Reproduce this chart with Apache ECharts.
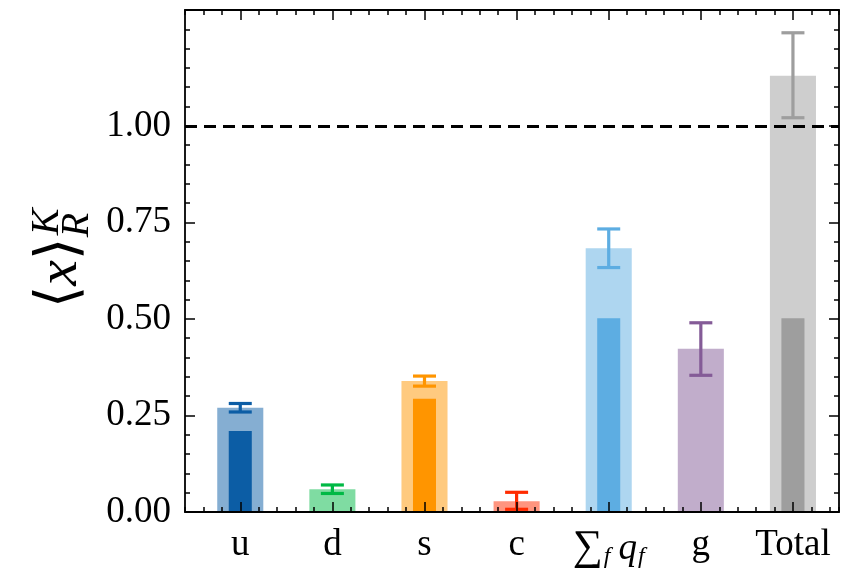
<!DOCTYPE html>
<html><head><meta charset="utf-8">
<script src="https://cdn.jsdelivr.net/npm/echarts@6/dist/echarts.min.js"></script>
<style>html,body{margin:0;padding:0;background:#fff}#c{width:859px;height:570px}</style>
</head><body><div id="c"></div>
<script>
// ---- data ----
const categories = ['u', 'd', 's', 'c', '{sum|∑}{sub|f}{it|q}{sub2|f}', 'g', 'Total'];
const outerValues = [0.270, 0.059, 0.339, 0.028, 0.683, 0.423, 1.130];
const innerValues = [0.210, null, 0.293, null, 0.502, null, 0.502];
const errCenters = [0.270, 0.059, 0.339, 0.029, 0.683, 0.422, 1.131];
const errHalf = [0.011, 0.011, 0.013, 0.022, 0.050, 0.068, 0.110];
const yTickValues = [0, 0.25, 0.5, 0.75, 1.0];
const xTickValues = [0, 1, 2, 3, 4, 5, 6];
const referenceLine = 1.0;
const colors = ['#0C5DA5', '#00B945', '#FF9500', '#FF2C00', '#5DADE2', '#845B97', '#9E9E9E'];

// ---- style ----
const FONT = 'Liberation Serif';
const lineCol = '#000';
const frameW = 1.8;

const outerData = outerValues.map((v, i) => [i, v, i]);
const innerData = [];
innerValues.forEach((v, i) => { if (v !== null) innerData.push([i, v, i]); });
const errData = errCenters.map((v, i) => [i, v, errHalf[i], i]);

function barRender(widthUnits, opacity) {
  return function (params, api) {
    const x = api.value(0), y = api.value(1), ci = api.value(2);
    const p0 = api.coord([x, 0]);
    const p1 = api.coord([x, y]);
    const w = api.size([widthUnits, 0])[0];
    return {
      type: 'rect',
      shape: { x: p0[0] - w / 2, y: p1[1], width: w, height: p0[1] - p1[1] },
      style: { fill: colors[ci], opacity: opacity }
    };
  };
}

function errRender(params, api) {
  const x = api.value(0), c = api.value(1), e = api.value(2), ci = api.value(3);
  const top = api.coord([x, c + e]);
  const bot = api.coord([x, c - e]);
  const cw = 11.5;
  const st = { stroke: colors[ci], lineWidth: 3.2 };
  return {
    type: 'group',
    children: [
      { type: 'line', shape: { x1: top[0], y1: top[1], x2: bot[0], y2: bot[1] }, style: st },
      { type: 'line', shape: { x1: top[0] - cw, y1: top[1], x2: top[0] + cw, y2: top[1] }, style: st },
      { type: 'line', shape: { x1: bot[0] - cw, y1: bot[1], x2: bot[0] + cw, y2: bot[1] }, style: st }
    ]
  };
}

const X_MIN = -0.6, X_MAX = 6.5, Y_MIN = 0, Y_MAX = 1.3;

function minorX(pos) {
  return {
    type: 'value', position: pos, min: X_MIN, max: X_MAX, interval: 0.2, z: 10,
    axisLine: { show: true, onZero: false, lineStyle: { color: lineCol, width: frameW } },
    axisTick: { show: true, inside: true, length: 5, lineStyle: { color: lineCol, width: 1.5 } },
    axisLabel: { show: false }, splitLine: { show: false }
  };
}
function majorX(pos, showLabel) {
  return {
    type: 'value', position: pos, min: X_MIN, max: X_MAX, z: 10,
    axisLine: { show: false, onZero: false },
    axisTick: { show: true, inside: true, length: 10, customValues: xTickValues, lineStyle: { color: lineCol, width: 1.5 } },
    axisLabel: {
      show: showLabel, customValues: xTickValues, margin: 15,
      formatter: v => categories[Math.round(v)],
      fontSize: 37, fontFamily: FONT, color: '#000',
      rich: {
        sum: { fontSize: 42, fontFamily: FONT, color: '#000', padding: [0, 1, 0, 0] },
        sub: { fontSize: 24, fontFamily: FONT, fontStyle: 'italic', color: '#000', padding: [18, 8, 0, 0] },
        sub2: { fontSize: 24, fontFamily: FONT, fontStyle: 'italic', color: '#000', padding: [18, 0, 0, 1] },
        it: { fontSize: 37, fontFamily: FONT, fontStyle: 'italic', color: '#000', padding: [2, 0, 0, 0] }
      }
    },
    splitLine: { show: false }
  };
}
function minorY(pos) {
  return {
    type: 'value', position: pos, min: Y_MIN, max: Y_MAX, interval: 0.05, z: 10,
    axisLine: { show: true, onZero: false, lineStyle: { color: lineCol, width: frameW } },
    axisTick: { show: true, inside: true, length: 5, lineStyle: { color: lineCol, width: 1.5 } },
    axisLabel: { show: false }, splitLine: { show: false }
  };
}
function majorY(pos, showLabel) {
  return {
    type: 'value', position: pos, min: Y_MIN, max: Y_MAX, z: 10,
    axisLine: { show: false, onZero: false },
    axisTick: { show: true, inside: true, length: 10, customValues: yTickValues, lineStyle: { color: lineCol, width: 1.5 } },
    axisLabel: {
      show: showLabel, customValues: yTickValues, margin: 14,
      formatter: v => v.toFixed(2),
      fontSize: 37, fontFamily: FONT, color: '#000'
    },
    splitLine: { show: false }
  };
}

const chart = echarts.init(document.getElementById('c'), null, { renderer: 'canvas' });
const S = 58, s = 40;
chart.setOption({
  animation: false,
  grid: { left: 185, right: 20, top: 10, bottom: 58, containLabel: false },
  xAxis: [minorX('bottom'), majorX('bottom', true), minorX('top'), majorX('top', false)],
  yAxis: [minorY('left'), majorY('left', true), minorY('right'), majorY('right', false)],
  graphic: [{
    type: 'group', x: 78, y: 308, rotation: Math.PI / 2,
    children: [
      { type: 'text', x: 11, y: -0.3 * S, style: { text: '⟨', fontSize: S, fontFamily: 'DejaVu Serif', fontWeight: 'normal', fill: '#000', align: 'center', verticalAlign: 'middle' } },
      { type: 'text', x: 35, y: -0.3 * S, style: { text: 'x', fontSize: S, fontStyle: 'italic', fontFamily: FONT, fill: '#000', align: 'center', verticalAlign: 'middle' } },
      { type: 'text', x: 59, y: -0.3 * S, style: { text: '⟩', fontSize: S, fontFamily: 'DejaVu Serif', fill: '#000', align: 'center', verticalAlign: 'middle' } },
      { type: 'text', x: 86, y: -19 - 0.3 * s, style: { text: 'K', fontSize: s, fontStyle: 'italic', fontFamily: FONT, fill: '#000', align: 'center', verticalAlign: 'middle' } },
      { type: 'text', x: 83, y: 11 - 0.3 * s, style: { text: 'R', fontSize: s, fontStyle: 'italic', fontFamily: FONT, fill: '#000', align: 'center', verticalAlign: 'middle' } }
    ]
  }],
  series: [
    {
      type: 'line', data: [], xAxisIndex: 0, yAxisIndex: 0, z: 1, silent: true,
      markLine: {
        silent: true, symbol: ['none', 'none'], label: { show: false },
        lineStyle: { color: '#000', width: 3, type: [12, 7] },
        data: [{ yAxis: referenceLine }]
      }
    },
    { type: 'custom', name: 'outer', xAxisIndex: 0, yAxisIndex: 0, z: 3, renderItem: barRender(0.5, 0.5), data: outerData, silent: true },
    { type: 'custom', name: 'inner', xAxisIndex: 0, yAxisIndex: 0, z: 4, renderItem: barRender(0.25, 1), data: innerData, silent: true },
    { type: 'custom', name: 'err', xAxisIndex: 0, yAxisIndex: 0, z: 5, renderItem: errRender, data: errData, silent: true }
  ]
});
</script>
</body></html>
